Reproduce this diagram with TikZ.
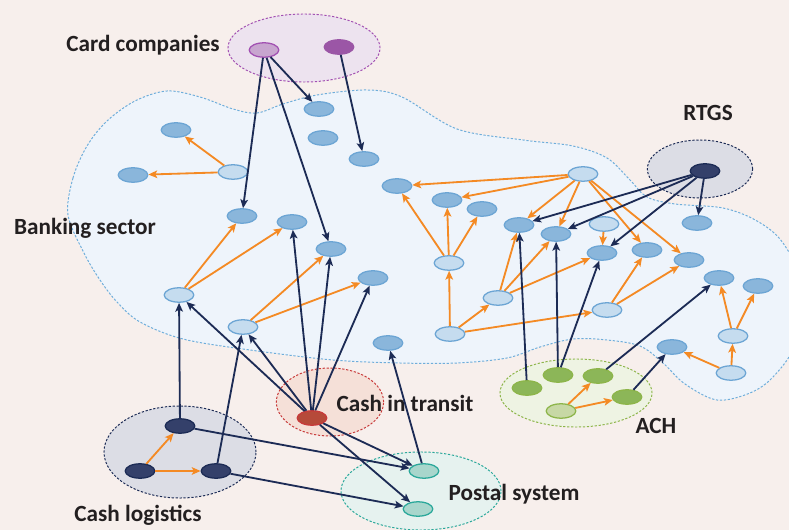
\documentclass[tikz,border=0pt]{standalone}
\usepackage{fontspec}
\setmainfont{Carlito}
\usetikzlibrary{arrows.meta, shapes.geometric}
\definecolor{bgpink}{HTML}{F7EFEC}
\definecolor{bankfill}{HTML}{EEF4FB}
\definecolor{bankline}{HTML}{6FAEDB}
\definecolor{bkdark}{HTML}{8AB6DB}
\definecolor{bklight}{HTML}{C5DCEF}
\definecolor{bkedge}{HTML}{6CA5D4}
\definecolor{navy}{HTML}{1C2B55}
\definecolor{orng}{HTML}{F48A24}
\definecolor{txtdark}{HTML}{231F20}
\definecolor{cardfill}{HTML}{EDE3EF}
\definecolor{cardline}{HTML}{A250B2}
\definecolor{cardlt}{HTML}{C8A5CF}
\definecolor{carddk}{HTML}{9B56A6}
\definecolor{navyfill}{HTML}{DCDDE5}
\definecolor{navydot}{HTML}{34406A}
\definecolor{citfill}{HTML}{F5E0D8}
\definecolor{citline}{HTML}{C83A3A}
\definecolor{citdot}{HTML}{B64A3A}
\definecolor{achfill}{HTML}{EEF3E3}
\definecolor{achline}{HTML}{8DB54A}
\definecolor{achdk}{HTML}{8CB658}
\definecolor{achlt}{HTML}{C7D8A5}
\definecolor{postfill}{HTML}{E6F2EF}
\definecolor{postline}{HTML}{2AA89A}
\definecolor{postdot}{HTML}{A8D6CC}

\begin{document}
\begin{tikzpicture}[x=0.025cm, y=-0.025cm,
  >={Stealth[length=2.2mm, width=1.9mm, inset=0.5mm]},
  pnode/.style 2 args={ellipse, draw=#1, fill=#2, line width=0.9pt,
    minimum width=7.4mm, minimum height=3.6mm, inner sep=0pt},
  bankd/.style={pnode={bkedge}{bkdark}},
  bankl/.style={pnode={bkedge}{bklight}},
  grp/.style 2 args={ellipse, draw=#1, fill=#2, line width=0.7pt,
    dash pattern=on 1.6pt off 1.2pt, inner sep=0pt},
  lbl/.style={font=\fontsize{16.5}{18}\selectfont\bfseries, text=txtdark},
  pay/.style={->, line width=1.3pt, navy},
  flow/.style={->, line width=1.3pt, orng},
]

% Background
\fill[bgpink] (0,0) rectangle (789,530);
\useasboundingbox (0,0) rectangle (789,530);

% =============================================
% Banking sector area
% =============================================
\begin{scope}
\clip (0,0) rectangle (789,530);
\draw[bankline, fill=bankfill, line width=0.7pt, dash pattern=on 1.6pt off 1.2pt]
  plot[smooth cycle, tension=0.55] coordinates {
  (68,215) (73,178) (87,146) (107,121) (135,101) (167,91) (200,97)
  (233,109) (257,113) (283,104) (317,95) (367,90) (402,97) (457,129)
  (523,140) (573,146) (607,158) (630,180) (647,197) (675,204) (723,208)
  (757,221) (783,243) (805,290) (795,345) (773,377) (750,393) (717,400)
  (685,384) (663,363) (640,346) (607,340) (573,339) (540,347) (507,358)
  (457,363) (400,363) (333,360) (250,350) (183,339) (140,322) (117,302)
  (100,280) (84,253)};
\end{scope}

% =============================================
% Clusters
% =============================================
\node[grp={cardline}{cardfill}, minimum width=3.8cm, minimum height=1.7cm] (gcard) at (304,48) {};
\node[grp={navy}{navyfill}, minimum width=2.63cm, minimum height=1.45cm] (grtgs) at (700,169) {};
\node[grp={achline}{achfill}, minimum width=3.8cm, minimum height=1.7cm] (gach) at (576,393) {};
\node[grp={citline}{citfill}, minimum width=2.68cm, minimum height=1.7cm] (gcit) at (330,402) {};
\node[grp={postline}{postfill}, minimum width=4.0cm, minimum height=1.95cm] (gpost) at (421,491) {};
\node[grp={navy}{navyfill}, minimum width=3.8cm, minimum height=2.3cm] (glog) at (180,452) {};

% =============================================
% Labels
% =============================================
\node[lbl] (lcard) at (143,45) {Card companies};
\node[lbl] (lbank) at (85,228) {Banking sector};
\node[lbl] (lrtgs) at (708,113) {RTGS};
\node[lbl] (lcit) at (405,403) {Cash in transit};
\node[lbl] (lach) at (656,426) {ACH};
\node[lbl] (lpost) at (514,494) {Postal system};
\node[lbl] (llog) at (138,515) {Cash logistics};

% =============================================
% Participants
% =============================================
\node[pnode={cardline}{cardlt}] (cc1) at (264,50) {};
\node[pnode={carddk}{carddk}] (cc2) at (339,47) {};
\node[pnode={navy}{navydot}] (rtgs) at (705,171) {};
\node[pnode={citline}{citdot}] (cit) at (312,418) {};
\node[pnode={navy}{navydot}] (cl1) at (180,426) {};
\node[pnode={navy}{navydot}] (cl2) at (140,471) {};
\node[pnode={navy}{navydot}] (cl3) at (216,471) {};
\node[pnode={postline}{postdot}] (ps1) at (424,471) {};
\node[pnode={postline}{postdot}] (ps2) at (418,509) {};
\node[pnode={achline}{achdk}] (ach1) at (527,388) {};
\node[pnode={achline}{achdk}] (ach2) at (558,375) {};
\node[pnode={achline}{achdk}] (ach3) at (598,376) {};
\node[pnode={achline}{achdk}] (ach4) at (627,397) {};
\node[pnode={achline}{achlt}] (ach5) at (561,411) {};

% banks
\node[bankd] (bk1) at (176,130) {};
\node[bankd] (bk2) at (133,175) {};
\node[bankl] (bk3) at (233,172) {};
\node[bankd] (bk4) at (319,109) {};
\node[bankd] (bk5) at (323,138) {};
\node[bankd] (bk6) at (364,159) {};
\node[bankd] (bk7) at (242,216) {};
\node[bankd] (bk8) at (292,222) {};
\node[bankd] (bk9) at (331,249) {};
\node[bankd] (bk10) at (373,278) {};
\node[bankl] (bk11) at (179,295) {};
\node[bankl] (bk12) at (243,327) {};
\node[bankd] (bk13) at (388,343) {};
\node[bankd] (bk14) at (397,186) {};
\node[bankl] (bk15) at (583,174) {};
\node[bankd] (bk16) at (447,200) {};
\node[bankd] (bk17) at (482,209) {};
\node[bankd] (bk18) at (519,225) {};
\node[bankd] (bk19) at (556,234) {};
\node[bankl] (bk20) at (604,224) {};
\node[bankd] (bk21) at (602,253) {};
\node[bankd] (bk22) at (647,250) {};
\node[bankd] (bk23) at (689,260) {};
\node[bankl] (bk24) at (449,263) {};
\node[bankl] (bk25) at (498,298) {};
\node[bankl] (bk26) at (607,310) {};
\node[bankl] (bk27) at (450,334) {};
\node[bankd] (bk28) at (719,278) {};
\node[bankd] (bk29) at (758,286) {};
\node[bankl] (bk30) at (733,336) {};
\node[bankd] (bk31) at (697,223) {};
\node[bankd] (bk32) at (672,347) {};
\node[bankl] (bk33) at (731,373) {};

% =============================================
% Interbank flows
% =============================================
\draw[flow] (bk3) -- (bk1);
\draw[flow] (bk3) -- (bk2);
\draw[flow] (bk11) -- (bk7);
\draw[flow] (bk11) -- (bk8);
\draw[flow] (bk12) -- (bk9);
\draw[flow] (bk12) -- (bk10);
\draw[flow] (bk15) -- (bk14);
\draw[flow] (bk15) -- (bk16);
\draw[flow] (bk15) -- (bk18);
\draw[flow] (bk15) -- (bk19);
\draw[flow] (bk15) -- (bk22);
\draw[flow] (bk15) -- (bk23);
\draw[flow] (bk20) -- (bk21);
\draw[flow] (bk24) -- (bk14);
\draw[flow] (bk24) -- (bk16);
\draw[flow] (bk24) -- (bk17);
\draw[flow] (bk27) -- (bk24);
\draw[flow] (bk27) -- (bk25);
\draw[flow] (bk27) -- (bk26);
\draw[flow] (bk25) -- (bk18);
\draw[flow] (bk25) -- (bk19);
\draw[flow] (bk25) -- (bk21);
\draw[flow] (bk26) -- (bk22);
\draw[flow] (bk26) -- (bk23);
\draw[flow] (bk30) -- (bk28);
\draw[flow] (bk30) -- (bk29);
\draw[flow] (bk33) -- (bk30);
\draw[flow] (bk33) -- (bk32);
\draw[flow] (cl2) -- (cl1);
\draw[flow] (cl2) -- (cl3);
\draw[flow] (ach5) -- (ach3);
\draw[flow] (ach5) -- (ach4);

% =============================================
% Links from the other systems
% =============================================
% card companies
\draw[pay] (cc1) -- (bk7);
\draw[pay] (cc1) -- (bk9);
\draw[pay] (cc1) -- (bk4);
\draw[pay] (cc2) -- (bk6);

% RTGS
\draw[pay] (rtgs) -- (bk18);
\draw[pay] (rtgs) -- (bk19);
\draw[pay] (rtgs) -- (bk21);
\draw[pay] (rtgs) -- (bk31);

% cash in transit
\draw[pay] (cit) -- (bk11);
\draw[pay] (cit) -- (bk12);
\draw[pay] (cit) -- (bk8);
\draw[pay] (cit) -- (bk9);
\draw[pay] (cit) -- (bk10);
\draw[pay] (cit) -- (ps1);
\draw[pay] (cit) -- (ps2);

% cash logistics
\draw[pay] (cl1) -- (bk11);
\draw[pay] (cl3) -- (bk12);
\draw[pay] (cl1) -- (ps1);
\draw[pay] (cl3) -- (ps2);

% postal system
\draw[pay] (ps1) -- (bk13);

% ACH
\draw[pay] (ach1) -- (bk18);
\draw[pay] (ach2) -- (bk19);
\draw[pay] (ach2) -- (bk21);
\draw[pay] (ach3) -- (bk28);
\draw[pay] (ach4) -- (bk32);

\end{tikzpicture}
\end{document}
